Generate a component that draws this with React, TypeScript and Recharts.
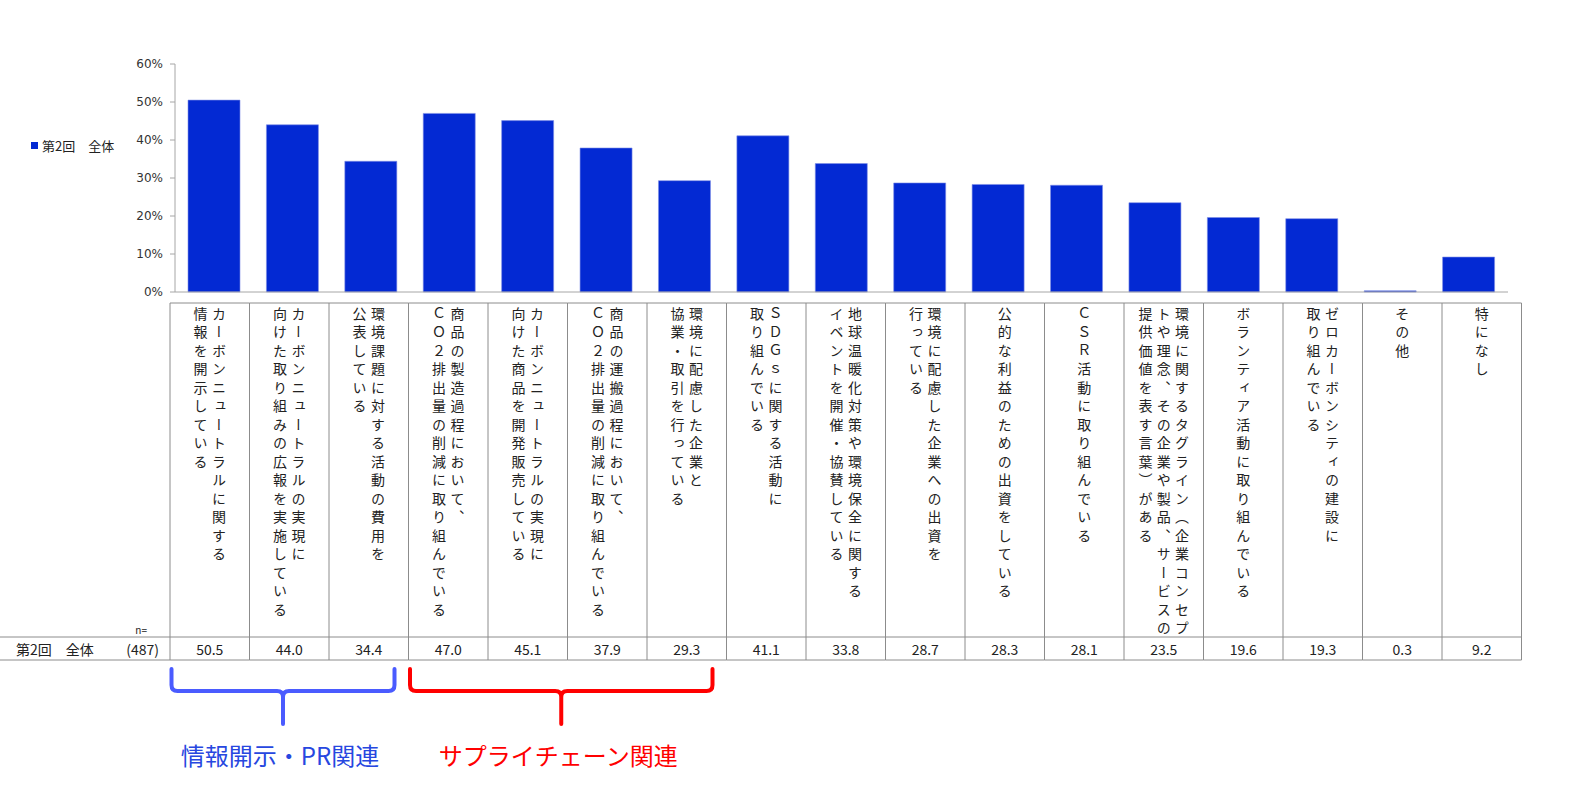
import React from 'react';
import { BarChart, Bar, XAxis, YAxis, Legend } from 'recharts';

// ---------- data ----------
const categoryLabels: string[][] = [
  ['カーボンニュートラルに関する', '情報を開示している'],
  ['カーボンニュートラルの実現に', '向けた取り組みの広報を実施している'],
  ['環境課題に対する活動の費用を', '公表している'],
  ['商品の製造過程において、', 'ＣＯ２排出量の削減に取り組んでいる'],
  ['カーボンニュートラルの実現に', '向けた商品を開発販売している'],
  ['商品の運搬過程において、', 'ＣＯ２排出量の削減に取り組んでいる'],
  ['環境に配慮した企業と', '協業・取引を行っている'],
  ['ＳＤＧｓに関する活動に', '取り組んでいる'],
  ['地球温暖化対策や環境保全に関する', 'イベントを開催・協賛している'],
  ['環境に配慮した企業への出資を', '行っている'],
  ['公的な利益のための出資をしている'],
  ['ＣＳＲ活動に取り組んでいる'],
  ['環境に関するタグライン（企業コンセプ', 'トや理念、その企業や製品、サービスの', '提供価値を表す言葉）がある'],
  ['ボランティア活動に取り組んでいる'],
  ['ゼロカーボンシティの建設に', '取り組んでいる'],
  ['その他'],
  ['特になし'],
];

const values: number[] = [50.5, 44.0, 34.4, 47.0, 45.1, 37.9, 29.3, 41.1, 33.8, 28.7, 28.3, 28.1, 23.5, 19.6, 19.3, 0.3, 9.2];

const yTicks: number[] = [0, 10, 20, 30, 40, 50, 60];
const seriesName = '第2回　全体';
const sampleSize = 487;
const nLabel = 'n=';

const groupLabels: string[] = ['情報開示・PR関連', 'サプライチェーン関連'];
const groupFrom: number[] = [0, 3];
const groupTo: number[] = [2, 6];
const groupStroke: string[] = ['#4A5BFF', '#FF0000'];
const groupText: string[] = ['#2747E0', '#FF0000'];

const data = categoryLabels.map((lines, i) => ({
  name: lines.join(''),
  lines,
  value: values[i],
}));

// ---------- layout ----------
const W = 1583;
const H = 787;
const PLOT_LEFT = 175;
const PLOT_RIGHT = 1508;
const PLOT_TOP = 64;
const PLOT_BOTTOM = 292;
const AXIS1_H = 11;
const TABLE_H = 380;
const TABLE_LEFT = 170;
const TABLE_RIGHT = 1521.5;
const CELL_W = (TABLE_RIGHT - TABLE_LEFT) / categoryLabels.length;
const BAR_COLOR = '#0329D3';
const GRID_COLOR = '#8c8c8c';
const AXIS_COLOR = '#a6a6a6';
const JP_FONT = '"Noto Sans CJK JP", "Noto Sans", sans-serif';

const ROW_TOP = 334;
const ROW_BOTTOM = 357;
const COL_PITCH = 18.3;

const TableTick = (props: any) => {
  const { x, y, index } = props;
  const d = data[index];
  if (!d) return null;
  const left = x - CELL_W / 2;
  const right = x + CELL_W / 2;
  const n = d.lines.length;
  const items: React.ReactNode[] = [];

  // borders
  items.push(<line key="top" x1={left} y1={y} x2={right} y2={y} stroke={GRID_COLOR} strokeWidth={1} />);
  items.push(<line key="l" x1={left} y1={y} x2={left} y2={y + ROW_BOTTOM} stroke={GRID_COLOR} strokeWidth={1} />);
  if (index === data.length - 1) {
    items.push(<line key="r" x1={right} y1={y} x2={right} y2={y + ROW_BOTTOM} stroke={GRID_COLOR} strokeWidth={1} />);
  }
  const rowLeft = index === 0 ? 0 : left;
  items.push(<line key="rt" x1={rowLeft} y1={y + ROW_TOP} x2={right} y2={y + ROW_TOP} stroke={GRID_COLOR} strokeWidth={1} />);
  items.push(<line key="rb" x1={rowLeft} y1={y + ROW_BOTTOM} x2={right} y2={y + ROW_BOTTOM} stroke={GRID_COLOR} strokeWidth={1} />);

  // vertical label columns (first line is right-most)
  d.lines.forEach((line: string, li: number) => {
    const cx = x + ((n - 1) / 2 - li) * COL_PITCH;
    items.push(
      <text
        key={'v' + li}
        x={cx}
        y={y + 3.3}
        fontSize={14}
        fontFamily={JP_FONT}
        fill="#222"
        style={{ writingMode: 'vertical-rl', letterSpacing: '4.5px' } as any}
      >
        {line}
      </text>
    );
  });

  // value
  items.push(
    <text key="val" x={x} y={y + (ROW_TOP + ROW_BOTTOM) / 2} textAnchor="middle" dominantBaseline="central" fontSize={14} fontFamily={JP_FONT} fill="#222">
      {d.value.toFixed(1)}
    </text>
  );

  if (index === 0) {
    items.push(
      <text key="n" x={147} y={y + 331} textAnchor="end" fontSize={10} fontFamily={JP_FONT} fill="#222">{nLabel}</text>
    );
    items.push(
      <text key="sn" x={16} y={y + (ROW_TOP + ROW_BOTTOM) / 2} dominantBaseline="central" fontSize={14} fontFamily={JP_FONT} fill="#222">{seriesName}</text>
    );
    items.push(
      <text key="ss" x={159} y={y + (ROW_TOP + ROW_BOTTOM) / 2} textAnchor="end" dominantBaseline="central" fontSize={14} fontFamily={JP_FONT} fill="#222">{`(${sampleSize})`}</text>
    );
  }

  // group braces
  groupFrom.forEach((gf, gi) => {
    if (gf !== index) return;
    const count = groupTo[gi] - gf + 1;
    const x1 = left + 1.5;
    const x2 = left + count * CELL_W - 14;
    const mid = (x1 + x2) / 2;
    const yt = y + 366;
    const yh = y + 388;
    const yb = y + 421;
    const r = 6;
    const path = `M ${x1} ${yt} L ${x1} ${yh - r} Q ${x1} ${yh} ${x1 + r} ${yh} L ${mid - r} ${yh} Q ${mid} ${yh} ${mid} ${yh + r} L ${mid} ${yb} M ${mid} ${yh + r} Q ${mid} ${yh} ${mid + r} ${yh} L ${x2 - r} ${yh} Q ${x2} ${yh} ${x2} ${yh - r} L ${x2} ${yt}`;
    items.push(
      <path key={'b' + gi} d={path} fill="none" stroke={groupStroke[gi]} strokeWidth={4} strokeLinecap="round" strokeLinejoin="round" />
    );
    items.push(
      <text key={'bt' + gi} x={mid - 3} y={y + 451} textAnchor="middle" dominantBaseline="central" fontSize={24} fontFamily={JP_FONT} fill={groupText[gi]}>
        {groupLabels[gi]}
      </text>
    );
  });

  return <g>{items}</g>;
};

const LegendContent = () => (
  <div style={{ display: 'flex', alignItems: 'center', fontFamily: JP_FONT, fontSize: 13, color: '#222', whiteSpace: 'nowrap' }}>
    <span style={{ display: 'inline-block', width: 7, height: 7, background: BAR_COLOR, marginRight: 4 }} />
    <span>{seriesName}</span>
  </div>
);

export default function App() {
  return (
    <div style={{ position: 'absolute', left: 0, top: 0, width: W, height: H, background: '#fff' }}>
      <BarChart
        width={W}
        height={H}
        data={data}
        margin={{ top: PLOT_TOP, right: W - PLOT_RIGHT, left: PLOT_LEFT - 60, bottom: H - PLOT_BOTTOM - AXIS1_H - TABLE_H }}
        barSize={52}
      >
        <XAxis
          xAxisId={0}
          dataKey="name"
          height={AXIS1_H}
          tick={false}
          tickLine={false}
          axisLine={{ stroke: AXIS_COLOR }}
        />
        <XAxis
          xAxisId="table"
          dataKey="name"
          height={TABLE_H}
          axisLine={false}
          tickLine={false}
          tickSize={0}
          tickMargin={0}
          interval={0}
          padding={{ left: TABLE_LEFT - PLOT_LEFT, right: PLOT_RIGHT - TABLE_RIGHT }}
          tick={<TableTick />}
        />
        <YAxis
          width={60}
          domain={[0, 60]}
          ticks={yTicks}
          interval={0}
          tickFormatter={(v: number) => `${v}%`}
          axisLine={{ stroke: AXIS_COLOR }}
          tickLine={{ stroke: AXIS_COLOR }}
          tickSize={5}
          tickMargin={7}
          tick={{ fontSize: 12, fontFamily: '"DejaVu Sans", Verdana, sans-serif', fill: '#333' }}
        />
        <Legend
          layout="horizontal"
          verticalAlign="middle"
          align="center"
          content={<LegendContent />}
          wrapperStyle={{ left: 31, top: 136, width: 130, height: 20 }}
        />
        <Bar dataKey="value" name={seriesName} fill={BAR_COLOR} stroke="#7f8fe6" strokeWidth={0.6} isAnimationActive={false} />
      </BarChart>
    </div>
  );
}
